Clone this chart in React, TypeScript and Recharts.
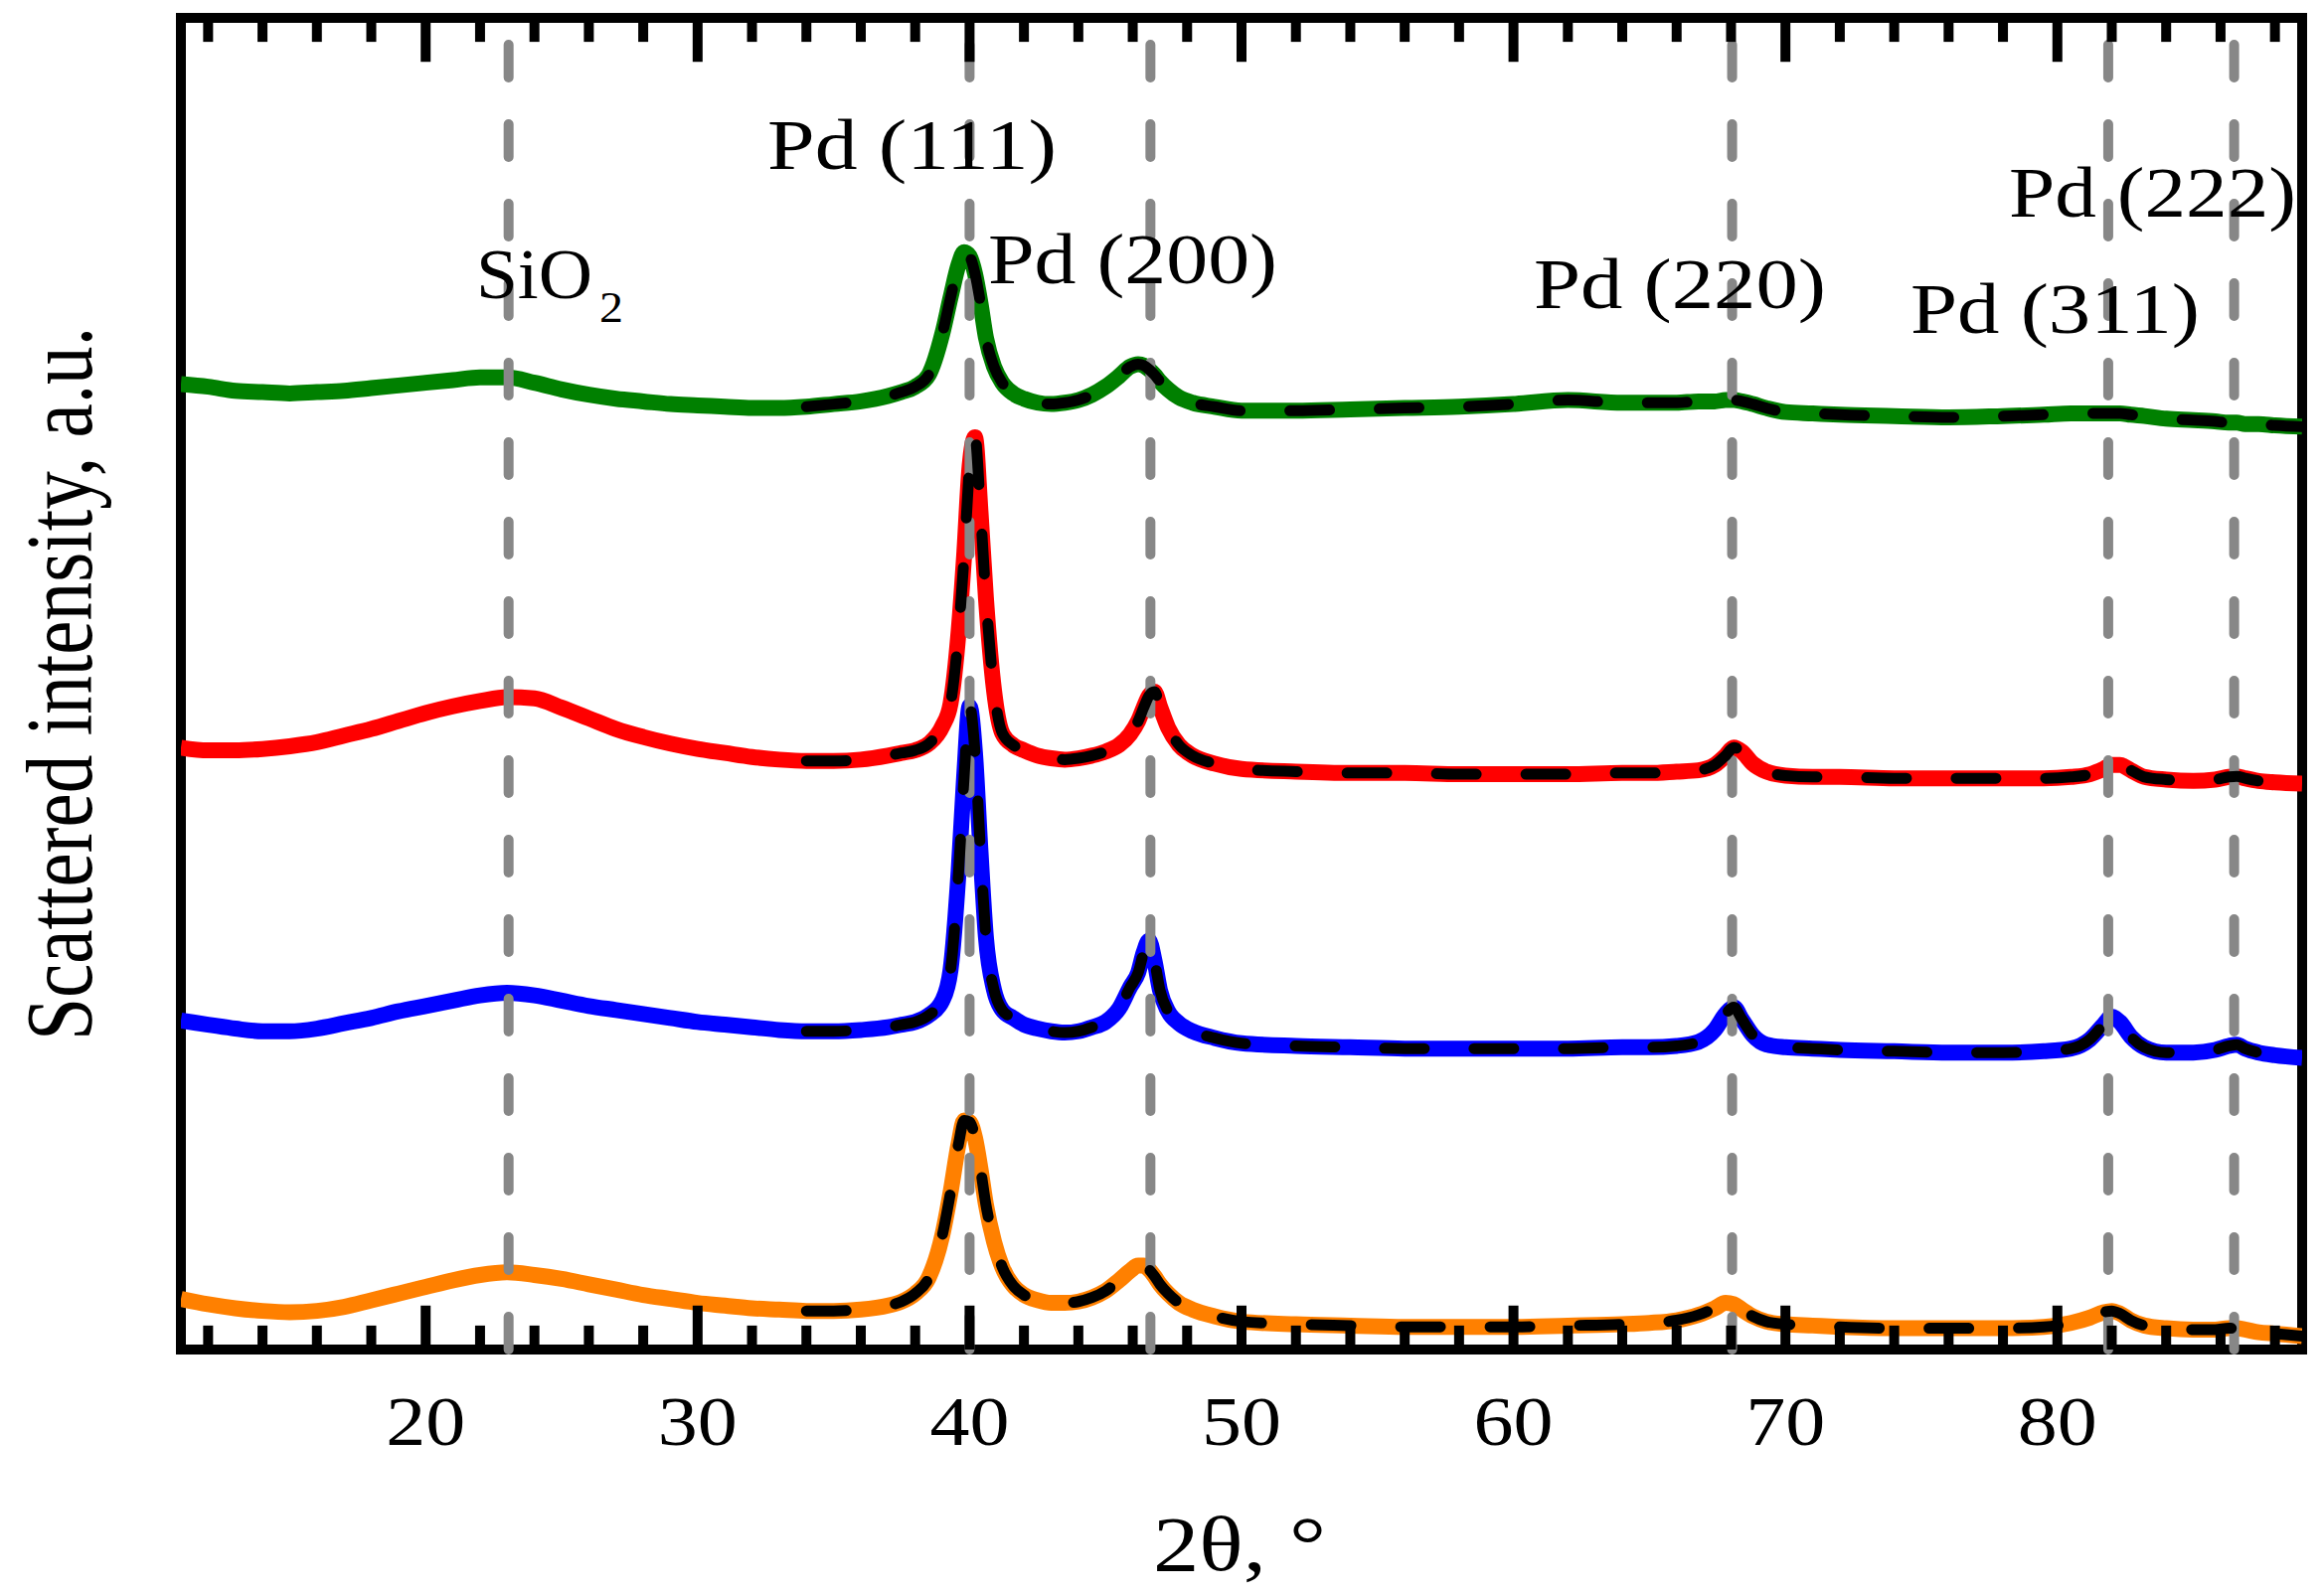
import React from "react";
import { LineChart, Line, XAxis, YAxis, ReferenceLine, ReferenceArea } from "recharts";

const SERIF = "'Liberation Serif', 'Times New Roman', serif";

// 2θ grid (denser around the Pd reflections)
const twoTheta = [
  11, 12, 13, 14, 15, 16, 17, 18, 19, 20, 21, 22, 23, 24, 25, 26, 27, 28, 29, 30, 31, 32, 33, 34, 35, 36,
  37, 37.5, 38, 38.5, 39, 39.3, 39.6, 39.8, 40.0, 40.2, 40.4, 40.6, 40.9, 41.2, 41.6, 42, 42.5, 43, 43.5,
  44, 44.5, 45, 45.5, 45.9, 46.2, 46.4, 46.6, 46.8, 47.0, 47.3, 47.7, 48.2, 49, 50, 52, 54, 56, 58, 60, 62,
  64, 65, 66, 66.8, 67.4, 67.8, 68.1, 68.4, 68.8, 69.3, 70, 71, 72, 74, 76, 78, 79.5, 80.5, 81.2, 81.7, 82.0,
  82.3, 82.7, 83.2, 84, 85, 85.8, 86.3, 86.6, 86.9, 87.4, 88, 89,
];

// scattered intensity, stacked with offsets (a.u.)
const sampleGreen = [
  72.5, 72.3, 72.0, 71.9, 71.8, 71.9, 72.0, 72.2, 72.4, 72.6, 72.8, 73.0, 73.0, 72.6, 72.1, 71.7, 71.4, 71.2, 71.0, 70.9, 70.8, 70.7, 70.7, 70.8, 71.0, 71.2,
  71.6, 71.9, 72.3, 73.2, 76.3, 79.0, 81.5, 82.4, 82.1, 80.8, 78.6, 76.0, 73.8, 72.6, 71.8, 71.4, 71.1, 71.0, 71.1,
  71.3, 71.7, 72.3, 73.1, 73.8, 74.0, 73.9, 73.6, 73.2, 72.7, 72.1, 71.5, 71.1, 70.8, 70.5, 70.5, 70.6, 70.7, 70.8, 71.0, 71.3,
  71.1, 71.1, 71.1, 71.2, 71.2, 71.3, 71.3, 71.2, 71.0, 70.7, 70.4, 70.3, 70.2, 70.1, 70.0, 70.1, 70.2, 70.3, 70.3, 70.3, 70.3,
  70.3, 70.2, 70.1, 69.9, 69.8, 69.7, 69.6, 69.6, 69.5, 69.5, 69.4, 69.3,
];

const sampleRed = [
  45.2, 45.0, 45.0, 45.1, 45.3, 45.6, 46.1, 46.6, 47.2, 47.8, 48.3, 48.7, 49.0, 48.9, 48.2, 47.4, 46.6, 46.0, 45.5, 45.1, 44.8, 44.5, 44.3, 44.2, 44.2, 44.3,
  44.6, 44.8, 45.0, 45.5, 46.8, 48.5, 54.0, 59.6, 66.3, 68.5, 63.0, 56.5, 49.5, 46.3, 45.4, 45.0, 44.6, 44.4, 44.3,
  44.4, 44.6, 44.9, 45.4, 46.2, 47.2, 48.2, 49.1, 49.4, 48.3, 46.7, 45.4, 44.6, 44.0, 43.6, 43.4, 43.3, 43.3, 43.2, 43.2, 43.2,
  43.3, 43.3, 43.4, 43.5, 43.9, 44.6, 45.2, 44.9, 44.0, 43.4, 43.1, 43.0, 43.0, 42.9, 42.9, 42.9, 42.9, 43.0, 43.2, 43.6, 43.9,
  43.9, 43.5, 43.0, 42.8, 42.7, 42.8, 43.0, 43.05, 42.9, 42.7, 42.6, 42.5,
];

const sampleBlue = [
  24.7, 24.4, 24.1, 23.9, 23.9, 24.1, 24.5, 24.9, 25.4, 25.8, 26.2, 26.6, 26.8, 26.6, 26.2, 25.8, 25.5, 25.2, 24.9, 24.6, 24.4, 24.2, 24.0, 23.9, 23.9, 24.0,
  24.2, 24.4, 24.6, 25.1, 26.2, 28.5, 36.0, 43.0, 48.3, 44.8, 37.5, 31.0, 27.0, 25.5, 24.9, 24.4, 24.1, 23.9, 23.8,
  23.9, 24.2, 24.6, 25.6, 27.2, 28.3, 29.8, 30.7, 29.2, 27.0, 25.4, 24.5, 23.9, 23.4, 23.0, 22.8, 22.7, 22.6, 22.6, 22.6, 22.6,
  22.7, 22.7, 22.8, 23.1, 24.0, 25.2, 25.7, 24.8, 23.6, 22.9, 22.7, 22.6, 22.5, 22.4, 22.3, 22.3, 22.4, 22.6, 23.3, 24.4, 25.0,
  24.6, 23.5, 22.7, 22.3, 22.3, 22.5, 22.8, 22.9, 22.6, 22.3, 22.1, 21.9,
];

const sampleOrange = [
  3.8, 3.4, 3.1, 2.9, 2.8, 2.9, 3.2, 3.7, 4.2, 4.7, 5.2, 5.6, 5.8, 5.6, 5.3, 4.9, 4.5, 4.1, 3.8, 3.5, 3.3, 3.1, 3.0, 2.9, 2.9, 3.0,
  3.3, 3.6, 4.2, 5.4, 8.6, 11.8, 15.5, 17.2, 17.1, 15.9, 13.6, 10.9, 8.1, 6.2, 4.8, 4.1, 3.7, 3.5, 3.5,
  3.6, 3.9, 4.4, 5.2, 5.9, 6.3, 6.3, 6.0, 5.5, 4.9, 4.2, 3.5, 3.0, 2.5, 2.1, 1.9, 1.8, 1.7, 1.7, 1.7, 1.8,
  1.9, 2.0, 2.2, 2.6, 3.1, 3.5, 3.4, 3.0, 2.5, 2.1, 1.9, 1.8, 1.7, 1.6, 1.6, 1.6, 1.7, 2.0, 2.4, 2.8, 2.9,
  2.7, 2.2, 1.8, 1.6, 1.5, 1.5, 1.6, 1.6, 1.5, 1.3, 1.2, 1.0,
];

// the fitted (black dashed) profiles start here
const FIT_START = 34;

const peakPositions = [23.05, 40.0, 46.65, 68.04, 81.87, 86.5];
const majorTicks = [20, 30, 40, 50, 60, 70, 80];
const minorTicks = [
  12, 14, 16, 18, 22, 24, 26, 28, 32, 34, 36, 38, 42, 44, 46, 48,
  52, 54, 56, 58, 62, 64, 66, 68, 72, 74, 76, 78, 82, 84, 86, 88,
];

const X_DOMAIN = [11, 89];
const Y_DOMAIN = [0, 100];
// inward tick lengths, in intensity units
const MINOR_LEN = 1.8;
const MAJOR_LEN = 3.3;

const SERIES = [
  { key: "green", values: sampleGreen, color: "#008000" },
  { key: "red", values: sampleRed, color: "#ff0000" },
  { key: "blue", values: sampleBlue, color: "#0000ff" },
  { key: "orange", values: sampleOrange, color: "#ff8000" },
];

const rows = twoTheta.map((x, i) => {
  const row: any = { x };
  SERIES.forEach((s) => {
    row[s.key] = s.values[i];
    row[s.key + "Fit"] = x >= FIT_START ? s.values[i] : null;
  });
  return row;
});

const W = 2338;
const H = 1604;

function BottomTick(props: any) {
  const { x, y, payload } = props;
  return (
    <text x={x} y={y + 96} textAnchor="middle" fontFamily={SERIF} fontSize={70} fill="#000" textLength={80} lengthAdjust="spacingAndGlyphs">
      {payload.value}
    </text>
  );
}

const labelStyle = { fontFamily: SERIF, fontSize: 71, fill: "#000" };

function tickMarks(values: number[], len: number) {
  const [y0, y1] = Y_DOMAIN;
  return values.flatMap((v) => [
    <ReferenceLine
      key={`b${v}`}
      xAxisId="main"
      segment={[{ x: v, y: y0 }, { x: v, y: y0 + len }]}
      stroke="#000"
      strokeWidth={10}
    />,
    <ReferenceLine
      key={`t${v}`}
      xAxisId="main"
      segment={[{ x: v, y: y1 }, { x: v, y: y1 - len }]}
      stroke="#000"
      strokeWidth={10}
    />,
  ]);
}

export default function App() {
  return (
    <div style={{ position: "absolute", left: 0, top: 0, width: W, height: H, background: "#fff" }}>
      <LineChart width={W} height={H} data={rows} margin={{ top: 18, right: 22, bottom: 146, left: 182 }}>
        <XAxis
          xAxisId="main"
          type="number"
          dataKey="x"
          domain={X_DOMAIN}
          allowDataOverflow
          interval={0}
          height={100}
          ticks={majorTicks}
          tickLine={false}
          axisLine={false}
          tickSize={0}
          tickMargin={0}
          tick={<BottomTick />}
        />
        <YAxis type="number" domain={Y_DOMAIN} hide width={0} allowDataOverflow />

        {SERIES.map((s) => (
          <Line
            key={s.key}
            xAxisId="main"
            type="monotone"
            dataKey={s.key}
            stroke={s.color}
            strokeWidth={16}
            strokeLinejoin="round"
            dot={false}
            activeDot={false}
            isAnimationActive={false}
          />
        ))}

        {peakPositions.map((p) => (
          <ReferenceLine
            key={p}
            xAxisId="main"
            x={p}
            stroke="#878787"
            strokeWidth={10}
            strokeDasharray="33 47"
            strokeLinecap="round"
          />
        ))}

        {SERIES.map((s) => (
          <Line
            key={s.key + "Fit"}
            xAxisId="main"
            type="monotone"
            dataKey={s.key + "Fit"}
            stroke="#000"
            strokeWidth={11}
            strokeDasharray="40 50"
            strokeLinecap="round"
            dot={false}
            activeDot={false}
            isAnimationActive={false}
          />
        ))}

        {tickMarks(minorTicks, MINOR_LEN)}
        {tickMarks(majorTicks, MAJOR_LEN)}

        <ReferenceArea xAxisId="main" x1={X_DOMAIN[0]} x2={X_DOMAIN[1]} y1={Y_DOMAIN[0]} y2={Y_DOMAIN[1]} fill="none" fillOpacity={0} stroke="#000" strokeWidth={10} ifOverflow="visible" />
      </LineChart>

      <svg width={W} height={H} style={{ position: "absolute", left: 0, top: 0, pointerEvents: "none" }}>
        <text x={772} y={170} {...labelStyle} textLength={291} lengthAdjust="spacingAndGlyphs">Pd (111)</text>
        <text x={994} y={285} {...labelStyle} textLength={291} lengthAdjust="spacingAndGlyphs">Pd (200)</text>
        <text x={1543} y={310} {...labelStyle} textLength={294} lengthAdjust="spacingAndGlyphs">Pd (220)</text>
        <text x={1922} y={335} {...labelStyle} textLength={291} lengthAdjust="spacingAndGlyphs">Pd (311)</text>
        <text x={2021} y={218} {...labelStyle} textLength={289} lengthAdjust="spacingAndGlyphs">Pd (222)</text>
        <text x={479} y={300} {...labelStyle} textLength={117} lengthAdjust="spacingAndGlyphs">SiO</text>
        <text x={603} y={324} fontFamily={SERIF} fontSize={44} fill="#000" textLength={24} lengthAdjust="spacingAndGlyphs">2</text>

        <text x={1247} y={1580} textAnchor="middle" fontFamily={SERIF} fontSize={78} fill="#000" textLength={174} lengthAdjust="spacingAndGlyphs">
          2θ, °
        </text>
        <text
          transform="translate(92, 688) rotate(-90) scale(1, 1.25)"
          textAnchor="middle"
          fontFamily={SERIF}
          fontSize={77}
          fill="#000"
          textLength={718}
          lengthAdjust="spacingAndGlyphs"
        >
          Scattered intensity, a.u.
        </text>
      </svg>
    </div>
  );
}
